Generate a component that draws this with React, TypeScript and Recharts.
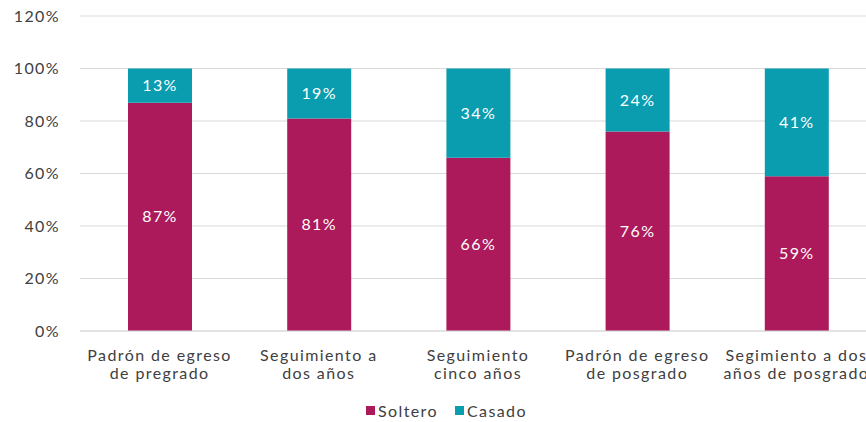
import { BarChart, Bar, XAxis, YAxis, CartesianGrid, Legend, LabelList } from 'recharts';

const categories = [
  'Padrón de egreso|de pregrado',
  'Seguimiento a|dos años',
  'Seguimiento|cinco años',
  'Padrón de egreso|de posgrado',
  'Segimiento a dos|años de posgrado',
];
const soltero = [87, 81, 66, 76, 59];
const casado = [13, 19, 34, 24, 41];
const yTicks = [0, 20, 40, 60, 80, 100, 120];

const data = categories.map((name, i) => ({ name, soltero: soltero[i], casado: casado[i] }));

const FONT = 'Lato, "Open Sans", sans-serif';
const TEXT = '#404040';
const SOLTERO = '#ad1a5b';
const CASADO = '#0a9daf';
const SPACING = 1.4;

// Two-line category label
function CategoryTick(props: any) {
  const { x, y, payload } = props;
  const lines = String(payload.value).split('|');
  return (
    <text x={x} y={y} textAnchor="middle" fill={TEXT} fontSize={16} fontFamily={FONT} letterSpacing={SPACING}>
      {lines.map((l, i) => (
        <tspan key={i} x={x} dy={i === 0 ? 22 : 18}>{l}</tspan>
      ))}
    </text>
  );
}

function LegendContent() {
  const items = [
    { label: 'Soltero', color: SOLTERO },
    { label: 'Casado', color: CASADO },
  ];
  return (
    <div style={{ display: 'flex', gap: 17, fontFamily: FONT, fontSize: 16, color: TEXT, letterSpacing: SPACING }}>
      {items.map((it) => (
        <div key={it.label} style={{ display: 'flex', alignItems: 'center', gap: 3 }}>
          <span style={{ width: 9, height: 9, background: it.color, display: 'inline-block' }} />
          <span>{it.label}</span>
        </div>
      ))}
    </div>
  );
}

export default function App() {
  return (
    <div style={{ position: 'absolute', left: 0, top: 0, width: 866, height: 422, overflow: 'hidden', background: '#fff' }}>
      <BarChart width={900} height={422} data={data} margin={{ top: 16, right: 24, left: 0, bottom: 0 }} barSize={64}>
        <CartesianGrid vertical={false} stroke="#d9d9d9" />
        <XAxis
          dataKey="name"
          tick={<CategoryTick />}
          tickLine={false}
          axisLine={{ stroke: '#d9d9d9' }}
          interval={0}
          height={72}
        />
        <YAxis
          domain={[0, 120]}
          ticks={yTicks}
          tickFormatter={(v) => `${v}%`}
          tickLine={false}
          axisLine={false}
          width={80}
          tickSize={0}
          tickMargin={20}
          tick={{ fill: TEXT, fontSize: 16, fontFamily: FONT, letterSpacing: SPACING }}
        />
        <Legend
          content={<LegendContent />}
          wrapperStyle={{ position: 'absolute', left: 366, top: 401, width: 220 }}
        />
        <Bar dataKey="soltero" stackId="a" fill={SOLTERO} isAnimationActive={false}>
          <LabelList dataKey="soltero" position="center" fill="#fff" fontSize={16} fontFamily={FONT} letterSpacing={SPACING} formatter={(v: any) => `${v}%`} />
        </Bar>
        <Bar dataKey="casado" stackId="a" fill={CASADO} isAnimationActive={false}>
          <LabelList dataKey="casado" position="center" fill="#fff" fontSize={16} fontFamily={FONT} letterSpacing={SPACING} formatter={(v: any) => `${v}%`} />
        </Bar>
      </BarChart>
    </div>
  );
}
